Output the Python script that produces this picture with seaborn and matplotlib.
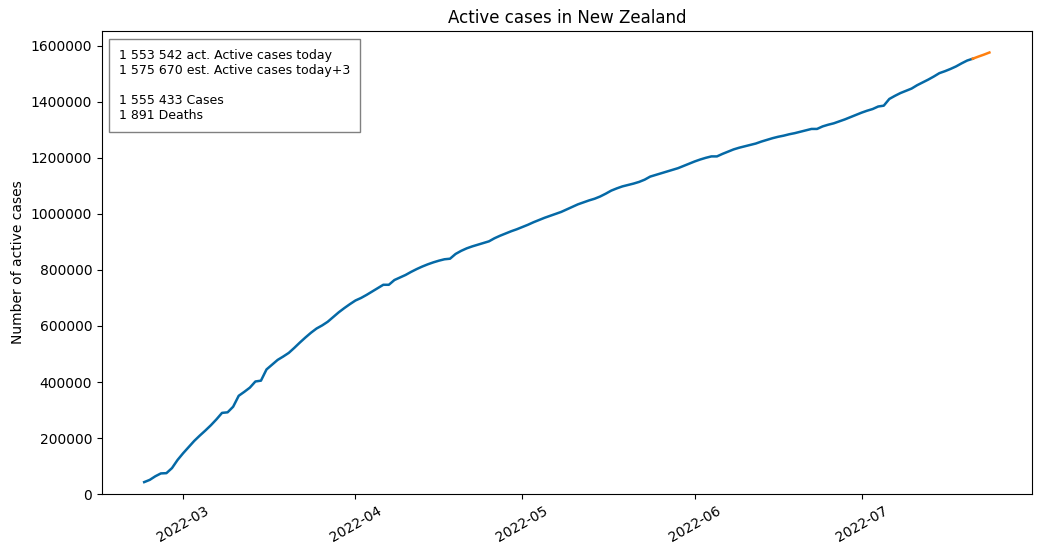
import matplotlib
matplotlib.use("Agg")
import matplotlib.pyplot as plt
import matplotlib.ticker as mticker
import seaborn as sns
import pandas as pd
import numpy as np

start_date = "2022-02-22"
active_cases = [
    43000, 51000, 63800, 74000, 75000, 93000, 122000, 146000, 168000, 190000,
    209000, 227000, 246000, 267000, 290000, 292000, 312000, 351000, 365000, 380000,
    402000, 405000, 445000, 462000, 479000, 491000, 504000, 522000, 541000, 559000,
    576000, 591000, 602000, 615000, 632000, 649000, 664000, 678000, 691000, 700000,
    711000, 723000, 735000, 747000, 747000, 764000, 773000, 782000, 793000, 803000,
    812000, 820000, 827000, 833000, 838000, 840000, 857000, 868000, 877000, 884000,
    890000, 896000, 902000, 913000, 922000, 930000, 938000, 945000, 953000, 961000,
    970000, 978000, 986000, 993000, 1000000, 1007000, 1016000, 1025000, 1034000, 1041000,
    1048000, 1054000, 1062000, 1072000, 1083000, 1091000, 1098000, 1103000, 1108000, 1114000,
    1122000, 1133000, 1139000, 1145000, 1151000, 1157000, 1163000, 1171000, 1179000, 1187000,
    1194000, 1200000, 1205000, 1205000, 1214000, 1222000, 1230000, 1236000, 1241000, 1246000,
    1251000, 1258000, 1264000, 1270000, 1275000, 1279000, 1284000, 1288000, 1293000, 1298000,
    1303000, 1303000, 1312000, 1318000, 1323000, 1330000, 1337000, 1345000, 1353000, 1361000,
    1368000, 1374000, 1383000, 1386000, 1410000, 1421000, 1431000, 1439000, 1447000, 1459000,
    1469000, 1479000, 1490000, 1502000, 1509000, 1517000, 1526000, 1537000, 1547000, 1553542,
]
estimate_cases = [1553542, 1561000, 1568000, 1575670]

info_lines = [
    "1 553 542 act. Active cases today",
    "1 575 670 est. Active cases today+3",
    "",
    "1 555 433 Cases",
    "1 891 Deaths",
]

dates = pd.date_range(start_date, periods=len(active_cases), freq="D")
est_dates = pd.date_range(dates[-1], periods=len(estimate_cases), freq="D")

df_act = pd.DataFrame({"date": dates, "cases": active_cases})
df_est = pd.DataFrame({"date": est_dates, "cases": estimate_cases})

fig, ax = plt.subplots(figsize=(10.4, 5.54), dpi=100)
fig.subplots_adjust(left=0.098, right=0.992, top=0.944, bottom=0.108)

sns.lineplot(data=df_act, x="date", y="cases", color="#0569a6", linewidth=1.8, ax=ax)
sns.lineplot(data=df_est, x="date", y="cases", color="#ff7f0e", linewidth=1.8, ax=ax)

ax.set_ylim(bottom=0)
ax.yaxis.set_major_formatter(mticker.FuncFormatter(lambda v, p: f"{int(v)}"))
ax.set_xlabel("")
ax.set_ylabel("Number of active cases")
ax.set_title("Active cases in New Zealand")
plt.setp(ax.get_xticklabels(), rotation=30)

ax.text(0.018, 0.962, "\n".join(info_lines), transform=ax.transAxes,
        va="top", ha="left", fontsize=9, linespacing=1.2,
        bbox=dict(boxstyle="square,pad=0.8", facecolor="white", edgecolor="gray"))

fig.savefig("out.png", dpi=100)
